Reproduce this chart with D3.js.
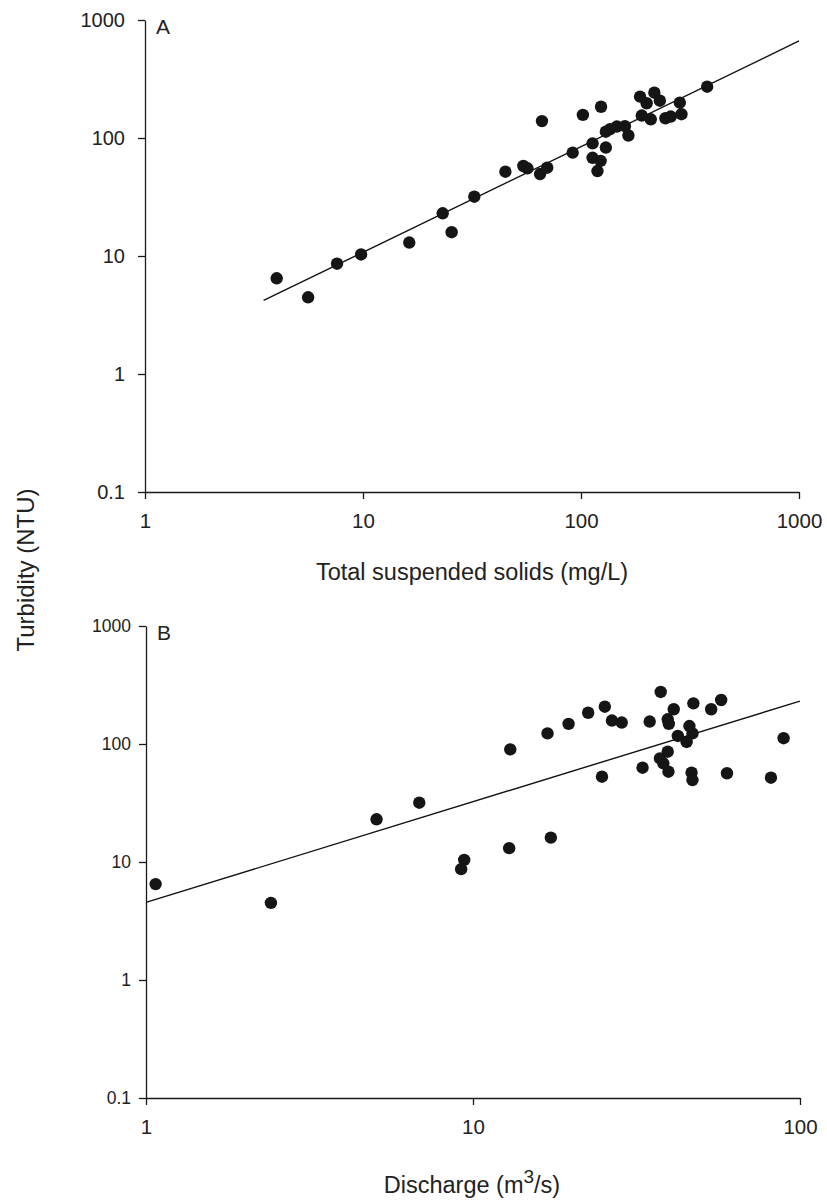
<!DOCTYPE html>
<html>
<head>
<meta charset="utf-8">
<script src="https://cdn.jsdelivr.net/npm/d3@7"></script>
<style>
  html, body { margin: 0; padding: 0; background: #fff; }
  svg { display: block; font-family: "Liberation Sans", Arial, sans-serif; }
  .axis path, .axis line { stroke: #1a1a1a; stroke-width: 1.3; }
  .axis text { fill: #222; font-family: "Liberation Sans", Arial, sans-serif; }
</style>
</head>
<body>
<svg id="chart" width="827" height="1201"></svg>
<script>
// ---------- Panel A: Turbidity vs Total suspended solids ----------
const tssA = [4.02, 5.6, 7.6, 9.8, 16.3, 23.2, 25.5, 32.4, 45, 54.4, 56.8, 64.9, 70, 66.2,
  91.6, 102, 123.6, 113, 113, 123, 119, 130, 130, 136, 146, 159, 165, 186.6, 200, 217, 230,
  190, 209, 244, 258, 284, 289, 379];
const turbA = [6.47, 4.47, 8.6, 10.3, 13, 23, 15.9, 31.8, 51.8, 57.9, 55.4, 49.5, 56, 139,
  75.1, 157, 184, 90, 68, 64, 52.5, 83, 113, 119, 125, 126, 105, 224, 197, 242, 207,
  155, 144, 147, 152, 199, 159, 272];
const fitAx = [3.5, 1000];
const fitAy = [4.2, 664];

// ---------- Panel B: Turbidity vs Discharge ----------
const qB = [1.07, 2.41, 5.07, 6.85, 9.2, 9.4, 12.9, 13, 16.9, 17.3, 19.6, 22.5, 24.8, 25.3,
  26.6, 28.5, 33, 34.7, 37.3, 38.2, 39.4, 39.4, 39.6, 39.7, 41.1, 42.3, 45, 45.9, 46.6,
  46.9, 46.9, 47.2, 53.5, 57.4, 59.8, 81.5, 89.1, 37.5];
const turbB = [6.5, 4.5, 23, 31.8, 8.7, 10.4, 13.1, 90, 123, 16.1, 148, 184, 52.8, 207,
  158, 152, 63, 155, 75.6, 68.6, 86, 162, 58.2, 148, 197, 117, 104, 142, 57.1,
  123, 49.5, 221, 197, 236, 56.5, 51.8, 112, 276];
const fitBx = [1, 100];
const fitBy = [4.55, 231];

// ---------- Tick values & labels ----------
const yTickVals = [0.1, 1, 10, 100, 1000];
const xTickValsA = [1, 10, 100, 1000];
const xTickValsB = [1, 10, 100];
const xTitleA = "Total suspended solids (mg/L)";
const yTitle = "Turbidity (NTU)";

const svg = d3.select("#chart");
const fmt = d => String(d);

function panel(cfg) {
  const x = d3.scaleLog().domain(cfg.xDomain).range(cfg.xRange);
  const y = d3.scaleLog().domain([0.1, 1000]).range(cfg.yRange);
  const g = svg.append("g");

  const ax = g.append("g").attr("class", "axis")
    .attr("transform", `translate(0,${cfg.yRange[0]})`)
    .call(d3.axisBottom(x).tickValues(cfg.xTicks).tickFormat(fmt)
      .tickSize(7).tickSizeOuter(0).tickPadding(14));
  ax.attr("font-size", null).attr("font-family", null);
  ax.selectAll("text").attr("font-size", cfg.xTickFont).style("font-size", cfg.xTickFont + "px");

  const ay = g.append("g").attr("class", "axis")
    .attr("transform", `translate(${cfg.xRange[0]},0)`)
    .call(d3.axisLeft(y).tickValues(yTickVals).tickFormat(fmt)
      .tickSize(7).tickSizeOuter(0).tickPadding(cfg.yPad));
  ay.attr("font-size", null).attr("font-family", null);
  ay.selectAll("text").attr("font-size", cfg.yTickFont).style("font-size", cfg.yTickFont + "px");

  // regression line
  const lineData = cfg.fitX.map((v, i) => [v, cfg.fitY[i]]);
  g.append("path")
    .datum(lineData)
    .attr("fill", "none").attr("stroke", "#111").attr("stroke-width", 1.4)
    .attr("d", d3.line().x(d => x(d[0])).y(d => y(d[1])));

  // points
  g.selectAll("circle.pt")
    .data(cfg.xs.map((v, i) => [v, cfg.ys[i]]))
    .join("circle").attr("class", "pt")
    .attr("cx", d => x(d[0])).attr("cy", d => y(d[1]))
    .attr("r", 6.2).attr("fill", "#151515");

  // panel letter
  g.append("text").attr("x", cfg.xRange[0] + 11).attr("y", cfg.yRange[1] + 14)
    .style("font-size", "21px").attr("fill", "#222").text(cfg.letter);

  return { x, y, g };
}

const A = panel({
  xDomain: [1, 1000], xRange: [145, 799], yRange: [492, 20],
  xTicks: xTickValsA, xs: tssA, ys: turbA, fitX: fitAx, fitY: fitAy,
  letter: "A", xTickFont: 20.5, yTickFont: 20, yPad: 13
});
const B = panel({
  xDomain: [1, 100], xRange: [146, 800], yRange: [1098, 626],
  xTicks: xTickValsB, xs: qB, ys: turbB, fitX: fitBx, fitY: fitBy,
  letter: "B", xTickFont: 20.5, yTickFont: 17.5, yPad: 8
});

// axis titles
svg.append("text").attr("x", 472).attr("y", 580).attr("text-anchor", "middle")
  .style("font-size", "23.5px").attr("fill", "#222").text(xTitleA);

const tB = svg.append("text").attr("x", 472).attr("y", 1193).attr("text-anchor", "middle")
  .style("font-size", "23.5px").attr("fill", "#222");
tB.append("tspan").text("Discharge (m");
tB.append("tspan").attr("dy", -10).style("font-size", "19px").text("3");
tB.append("tspan").attr("dy", 10).text("/s)");

svg.append("text").attr("transform", "translate(34,570) rotate(-90)")
  .attr("text-anchor", "middle").style("font-size", "24px").attr("fill", "#222").text(yTitle);
</script>
</body>
</html>
